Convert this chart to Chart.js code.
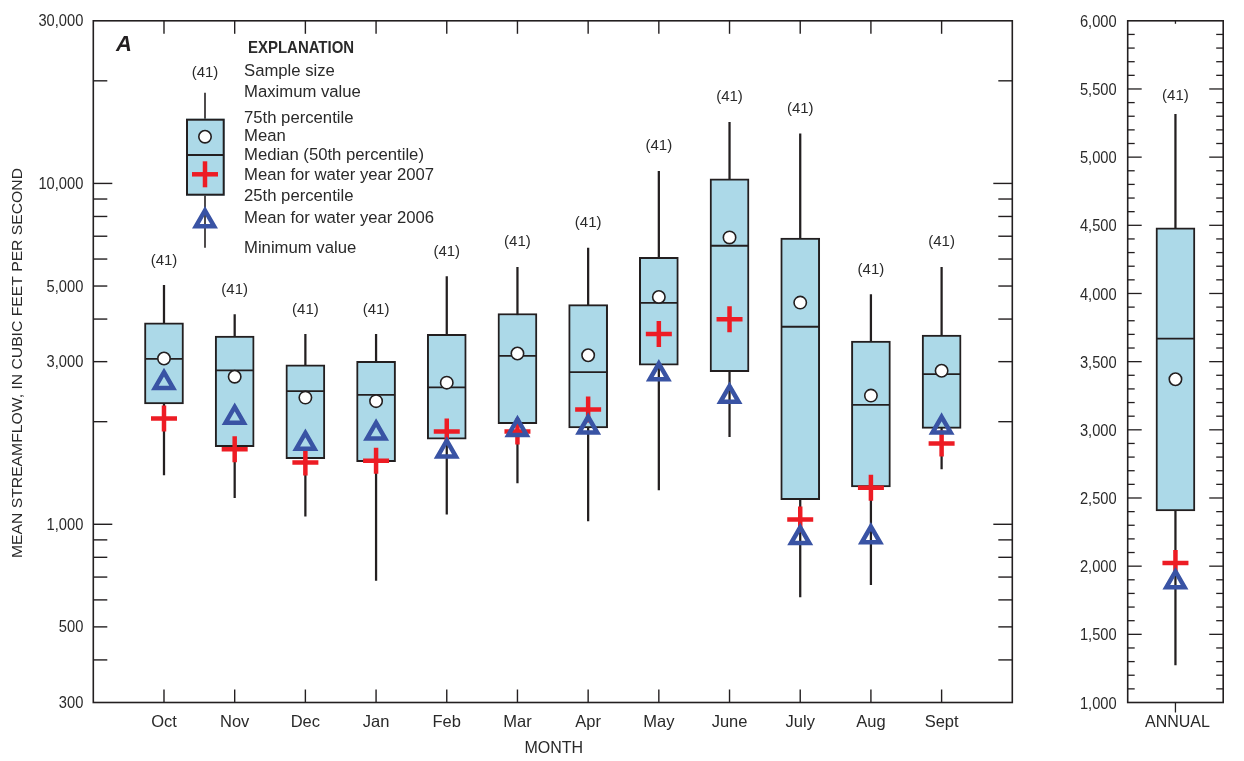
<!DOCTYPE html>
<html>
<head>
<meta charset="utf-8">
<script src="https://cdn.jsdelivr.net/npm/chart.js@4.4.1/dist/chart.umd.min.js"></script>
<style>
html, body { margin: 0; padding: 0; background: #fff; }
#wrap { position: relative; width: 1244px; height: 761px; }
#monthly { position: absolute; left: 0; top: 0; }
#annual { position: absolute; left: 1040px; top: 0; }
</style>
</head>
<body>
<div id="wrap">
  <canvas id="monthly" width="1040" height="761"></canvas>
  <canvas id="annual" width="204" height="761"></canvas>
</div>
<script>
// monthly statistics, cubic feet per second
const months = ['Oct', 'Nov', 'Dec', 'Jan', 'Feb', 'Mar', 'Apr', 'May', 'June', 'July', 'Aug', 'Sept'];
const sampleSize = [41, 41, 41, 41, 41, 41, 41, 41, 41, 41, 41, 41];
const maxValue = [5020, 4125, 3607, 3607, 5333, 5678, 6463, 10850, 15110, 13970, 4717, 5678];
const pct75 = [3902, 3566, 2937, 3005, 3607, 4152, 4411, 6074, 10310, 6910, 3449, 3590];
const median = [3057, 2829, 2457, 2396, 2523, 3119, 2796, 4461, 6563, 3798, 2241, 2758];
const mean = [3065, 2710, 2353, 2297, 2603, 3170, 3133, 4644, 6943, 4470, 2385, 2821];
const pct25 = [2256, 1688, 1557, 1527, 1776, 1973, 1917, 2931, 2802, 1180, 1288, 1912];
const minValue = [1395, 1196, 1056, 684, 1070, 1323, 1023, 1262, 1808, 612, 665, 1453];
const meanWY2007 = [2045, 1661, 1519, 1537, 1870, 1870, 2172, 3614, 3997, 1032, 1280, 1726];
const meanWY2006 = [2603, 2058, 1726, 1851, 1639, 1895, 1925, 2758, 2369, 913, 917, 1925];

// annual statistics
const annualLabel = ['ANNUAL'];
const annualN = [41];
const annualMax = [5314];
const annual75 = [4482];
const annualMedian = [3669];
const annualMean = [3371];
const annual25 = [2405];
const annualMin = [1275];
const annualWY2007 = [2024];
const annualWY2006 = [1884];

// axis ticks
const logTickLabels = [300, 500, 1000, 3000, 5000, 10000, 30000];
const logTickMarks = [400, 500, 600, 700, 800, 900, 1000, 2000, 3000, 4000, 5000, 6000, 7000, 8000, 9000, 10000, 20000];
const logMajor = [1000, 10000];
const annualTickLabels = [1000, 1500, 2000, 2500, 3000, 3500, 4000, 4500, 5000, 5500, 6000];

const INK = '#231f20';
const TXT = '#2a2a2a';
const BOX = '#acd9e8';
const RED = '#ed1c24';
const BLUE = '#3953a4';
const FONT = '"Liberation Sans", Arial, sans-serif';

function say(ctx, s, x, y, size, o = {}) {
  ctx.save();
  ctx.font = (o.style || '') + ' ' + size + 'px ' + FONT;
  ctx.fillStyle = o.color || TXT;
  ctx.textBaseline = 'middle';
  ctx.textAlign = o.align || 'center';
  let sx = o.sx || 1;
  if (o.width) sx = o.width / ctx.measureText(s).width;
  ctx.translate(x, y);
  if (o.rotate) ctx.rotate(o.rotate);
  ctx.scale(sx, 1);
  ctx.fillText(s, 0, 0);
  ctx.restore();
}

function seg(ctx, x1, y1, x2, y2) {
  ctx.beginPath();
  ctx.moveTo(x1, y1);
  ctx.lineTo(x2, y2);
  ctx.stroke();
}

function boxSets(xs, hi, top, mid, avg, low, bottom, m07, m06) {
  const pts = a => a.map((v, i) => ({ x: xs[i], y: v }));
  const rng = (a, b) => a.map((v, i) => ({ x: xs[i], y: [b[i], v] }));
  return [
    { type: 'bar', data: rng(hi, bottom), backgroundColor: INK, barThickness: 1.6, grouped: false, order: 6 },
    { type: 'bar', data: rng(top, low), backgroundColor: BOX, borderColor: INK, borderWidth: 2,
      borderSkipped: false, barThickness: 39, grouped: false, order: 5 },
    { type: 'scatter', data: pts(mid), pointStyle: 'line', pointRadius: 19, pointBorderColor: INK,
      pointBorderWidth: 1.8, order: 4 },
    { type: 'scatter', data: pts(avg), pointStyle: 'circle', pointRadius: 6.2, pointBackgroundColor: '#fff',
      pointBorderColor: INK, pointBorderWidth: 1.6, order: 3 },
    { type: 'scatter', data: pts(m07), pointStyle: 'cross', pointRadius: 13, pointBorderColor: RED,
      pointBorderWidth: 4.5, order: 2 },
    { type: 'scatter', data: pts(m06), pointStyle: 'triangle', pointRadius: 10.5,
      pointBackgroundColor: 'rgba(0,0,0,0)', pointBorderColor: BLUE, pointBorderWidth: 4.5, order: 1 }
  ];
}

const baseOptions = (padding, x, y, plugin) => ({
  responsive: false,
  animation: false,
  devicePixelRatio: 1,
  layout: { padding: padding },
  plugins: { legend: { display: false }, tooltip: { enabled: false } },
  scales: { x: x, y: y }
});

// ---------- monthly panel ----------
const monthX = months.map((m, i) => i + 1);

const monthlyDecor = {
  id: 'monthlyDecor',
  afterDraw(chart) {
    const ctx = chart.ctx, a = chart.chartArea;
    const sx = chart.scales.x, sy = chart.scales.y;
    ctx.save();
    ctx.strokeStyle = INK;
    ctx.lineWidth = 1.6;
    ctx.strokeRect(a.left, a.top, a.right - a.left, a.bottom - a.top);
    ctx.lineWidth = 1.4;
    logTickMarks.forEach(v => {
      const y = sy.getPixelForValue(v);
      const L = logMajor.includes(v) ? 19 : 14;
      seg(ctx, a.left, y, a.left + L, y);
      seg(ctx, a.right, y, a.right - L, y);
    });
    monthX.forEach(v => {
      const x = sx.getPixelForValue(v);
      seg(ctx, x, a.bottom, x, a.bottom - 13);
      seg(ctx, x, a.top, x, a.top + 13);
    });
    ctx.restore();

    logTickLabels.forEach(v => {
      say(ctx, v.toLocaleString('en-US'), a.left - 10, sy.getPixelForValue(v) + 1, 16.5, { align: 'right', sx: 0.89 });
    });
    months.forEach((m, i) => say(ctx, m, sx.getPixelForValue(monthX[i]), 722, 16.5));
    say(ctx, 'MONTH', (a.left + a.right) / 2 + 1, 749, 16);
    say(ctx, 'MEAN STREAMFLOW, IN CUBIC FEET PER SECOND', 18, 363, 14.5, { rotate: -Math.PI / 2, width: 390 });
    sampleSize.forEach((n, i) => {
      say(ctx, '(' + n + ')', sx.getPixelForValue(monthX[i]), sy.getPixelForValue(maxValue[i]) - 25, 15);
    });

    // explanation key
    say(ctx, 'A', 124, 45, 22, { style: 'italic bold', color: INK });
    say(ctx, 'EXPLANATION', 248, 48, 17, { style: 'bold', align: 'left', sx: 0.88 });
    const kx = 205;
    ctx.save();
    ctx.strokeStyle = INK;
    ctx.lineWidth = 1.6;
    seg(ctx, kx, 92.7, kx, 247.7);
    ctx.fillStyle = BOX;
    ctx.fillRect(186, 118.7, 38.7, 77);
    ctx.lineWidth = 2;
    ctx.strokeRect(187, 119.7, 36.7, 75);
    ctx.lineWidth = 1.8;
    seg(ctx, 187, 155, 223.7, 155);
    ctx.beginPath();
    ctx.arc(kx, 136.7, 6.2, 0, Math.PI * 2);
    ctx.fillStyle = '#fff';
    ctx.fill();
    ctx.lineWidth = 1.6;
    ctx.stroke();
    ctx.strokeStyle = RED;
    ctx.lineWidth = 4.5;
    seg(ctx, kx - 13, 174.3, kx + 13, 174.3);
    seg(ctx, kx, 161.3, kx, 187.3);
    const r = 10.5, ty = 221;
    ctx.strokeStyle = BLUE;
    ctx.beginPath();
    ctx.moveTo(kx, ty - r);
    ctx.lineTo(kx + 0.866 * r, ty + r / 2);
    ctx.lineTo(kx - 0.866 * r, ty + r / 2);
    ctx.closePath();
    ctx.stroke();
    ctx.restore();
    say(ctx, '(41)', kx, 73, 15);
    const keyText = [
      ['Sample size', 71], ['Maximum value', 92], ['75th percentile', 118], ['Mean', 136],
      ['Median (50th percentile)', 155], ['Mean for water year 2007', 175], ['25th percentile', 196],
      ['Mean for water year 2006', 218], ['Minimum value', 248]
    ];
    keyText.forEach(t => say(ctx, t[0], 244, t[1], 16.7, { align: 'left' }));
  }
};

new Chart(document.getElementById('monthly'), {
  type: 'bar',
  data: { datasets: boxSets(monthX, maxValue, pct75, median, mean, pct25, minValue, meanWY2007, meanWY2006) },
  options: baseOptions(
    { left: 93.3, top: 14, right: 27.7, bottom: 58.5 },
    { type: 'linear', min: 0, max: 13, offset: false, display: false },
    { type: 'logarithmic', min: 300, max: 30000, display: false }
  ),
  plugins: [monthlyDecor]
});

// ---------- annual panel ----------
const annualX = [1];

const annualDecor = {
  id: 'annualDecor',
  afterDraw(chart) {
    const ctx = chart.ctx, a = chart.chartArea;
    const sx = chart.scales.x, sy = chart.scales.y;
    ctx.save();
    ctx.strokeStyle = INK;
    ctx.lineWidth = 1.6;
    ctx.strokeRect(a.left, a.top, a.right - a.left, a.bottom - a.top);
    ctx.lineWidth = 1.3;
    for (let v = 1100; v < 6000; v += 100) {
      const y = sy.getPixelForValue(v);
      const L = v % 500 === 0 ? 14 : 7;
      seg(ctx, a.left, y, a.left + L, y);
      seg(ctx, a.right, y, a.right - L, y);
    }
    const cx = sx.getPixelForValue(annualX[0]);
    seg(ctx, cx, a.top, cx, a.top + 3);
    seg(ctx, cx, a.bottom, cx, a.bottom + 10);
    ctx.restore();

    annualTickLabels.forEach(v => {
      say(ctx, v.toLocaleString('en-US'), a.left - 11, sy.getPixelForValue(v) + 1.5, 16.5, { align: 'right', sx: 0.89 });
    });
    say(ctx, annualLabel[0], cx + 2, 723, 16);
    say(ctx, '(' + annualN[0] + ')', cx, sy.getPixelForValue(annualMax[0]) - 18, 15);
  }
};

new Chart(document.getElementById('annual'), {
  type: 'bar',
  data: { datasets: boxSets(annualX, annualMax, annual75, annualMedian, annualMean, annual25, annualMin, annualWY2007, annualWY2006) },
  options: baseOptions(
    { left: 87.7, top: 14, right: 2, bottom: 58.5 },
    { type: 'linear', min: 0, max: 2, offset: false, display: false },
    { type: 'linear', min: 1000, max: 6000, display: false }
  ),
  plugins: [annualDecor]
});
</script>
</body>
</html>
